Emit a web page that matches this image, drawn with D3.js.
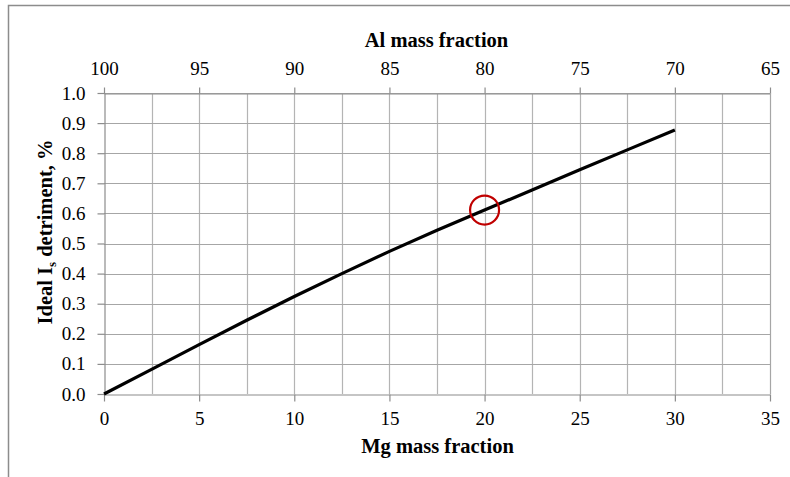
<!DOCTYPE html>
<html><head><meta charset="utf-8">
<script src="https://cdn.jsdelivr.net/npm/d3@7"></script>
<style>
html,body{margin:0;padding:0;background:#fff;}
svg text{font-family:"Liberation Serif","Times New Roman",serif;fill:#000;}
</style></head>
<body><svg id="c" width="790" height="477"></svg>
<script>
// Data
const mgFraction = [0, 2.5, 5, 7.5, 10, 12.5, 15, 17.5, 20, 22.5, 25, 27.5, 30];
const isDetriment = [0, 0.082, 0.164, 0.245, 0.324, 0.400, 0.474, 0.544, 0.611, 0.678, 0.745, 0.811, 0.877];
const bottomTicks = [0, 5, 10, 15, 20, 25, 30, 35];
const topTicks = [100, 95, 90, 85, 80, 75, 70, 65];
const yTicks = [0, 0.1, 0.2, 0.3, 0.4, 0.5, 0.6, 0.7, 0.8, 0.9, 1.0];
const gridX = [2.5, 5, 7.5, 10, 12.5, 15, 17.5, 20, 22.5, 25, 27.5, 30, 32.5];
const highlight = [{mg: 20, val: 0.611}];

const svg = d3.select("#c");
const L = 104, R = 770, T = 93, B = 394;
const x = d3.scaleLinear().domain([0, 35]).range([L, R]);
const xTop = d3.scaleLinear().domain([100, 65]).range([L, R]);
const y = d3.scaleLinear().domain([0, 1]).range([B, T]);

// frame
svg.append("path").attr("d", `M8.5,477 V5.5 H790`).attr("fill","none").attr("stroke","#8c8c8c").attr("stroke-width",1.5);

// grid
const g = svg.append("g");
g.selectAll(".gx").data(gridX).join("line")
  .attr("x1", d => Math.round(x(d))+0.5).attr("x2", d => Math.round(x(d))+0.5)
  .attr("y1", T).attr("y2", B).attr("stroke", "#b4b4b4").attr("stroke-width", 1.2);
g.selectAll(".gy").data(yTicks.slice(1)).join("line")
  .attr("x1", L).attr("x2", R)
  .attr("y1", d => Math.round(y(d))+0.5).attr("y2", d => Math.round(y(d))+0.5)
  .attr("stroke", "#a6a6a6").attr("stroke-width", 1.2);

// axes
const axStyle = sel => {
  sel.attr("font-size", null).attr("font-family", null);
  sel.select(".domain").attr("stroke", "#8c8c8c").attr("stroke-width", 1.2);
  sel.selectAll(".tick line").attr("stroke", "#8c8c8c").attr("stroke-width", 1.2);
  sel.selectAll(".tick text").style("font-size", "19px").style("font-family", '"Liberation Serif", serif');
};
svg.append("g").attr("transform", `translate(0,${B+0.5})`)
  .call(d3.axisBottom(x).tickValues(bottomTicks).tickSize(7).tickPadding(10).tickSizeOuter(0).tickFormat(d3.format("d")))
  .call(axStyle);
svg.append("g").attr("transform", `translate(0,${T+0.5})`)
  .call(d3.axisTop(xTop).tickValues(topTicks).tickSize(6).tickPadding(13).tickSizeOuter(0).tickFormat(d3.format("d")))
  .call(axStyle);
svg.append("g").attr("transform", `translate(${L+0.5},0)`)
  .call(d3.axisLeft(y).tickValues(yTicks).tickSize(7).tickPadding(12).tickSizeOuter(0).tickFormat(d3.format(".1f")))
  .call(axStyle);
svg.append("line").attr("x1", R+0.5).attr("x2", R+0.5).attr("y1", T).attr("y2", B).attr("stroke", "#a6a6a6").attr("stroke-width", 1.2);

// line
const line = d3.line().x((d, i) => x(mgFraction[i])).y(d => y(d));
svg.append("path").datum(isDetriment).attr("d", line)
  .attr("fill", "none").attr("stroke", "#000").attr("stroke-width", 3.2).attr("stroke-linejoin", "round");

// highlight circle
svg.selectAll(".hl").data(highlight).join("circle")
  .attr("cx", d => x(d.mg)).attr("cy", d => y(d.val)).attr("r", 14.5)
  .attr("fill", "none").attr("stroke", "#c00000").attr("stroke-width", 2.2);

// titles
svg.append("text").attr("x", 436.5).attr("y", 47).attr("text-anchor", "middle")
  .style("font-size", "20.5px").attr("font-weight", "bold").text("Al mass fraction");
svg.append("text").attr("x", 437.5).attr("y", 453).attr("text-anchor", "middle")
  .style("font-size", "20.5px").attr("font-weight", "bold").text("Mg mass fraction");
const yt = svg.append("text").attr("transform", "translate(52,232) rotate(-90)").attr("text-anchor", "middle")
  .style("font-size", "20.5px").attr("font-weight", "bold");
yt.append("tspan").text("Ideal I");
yt.append("tspan").style("font-size", "13px").attr("dy", 4).text("s");
yt.append("tspan").attr("dy", -4).text(" detriment, %");
</script></body></html>
